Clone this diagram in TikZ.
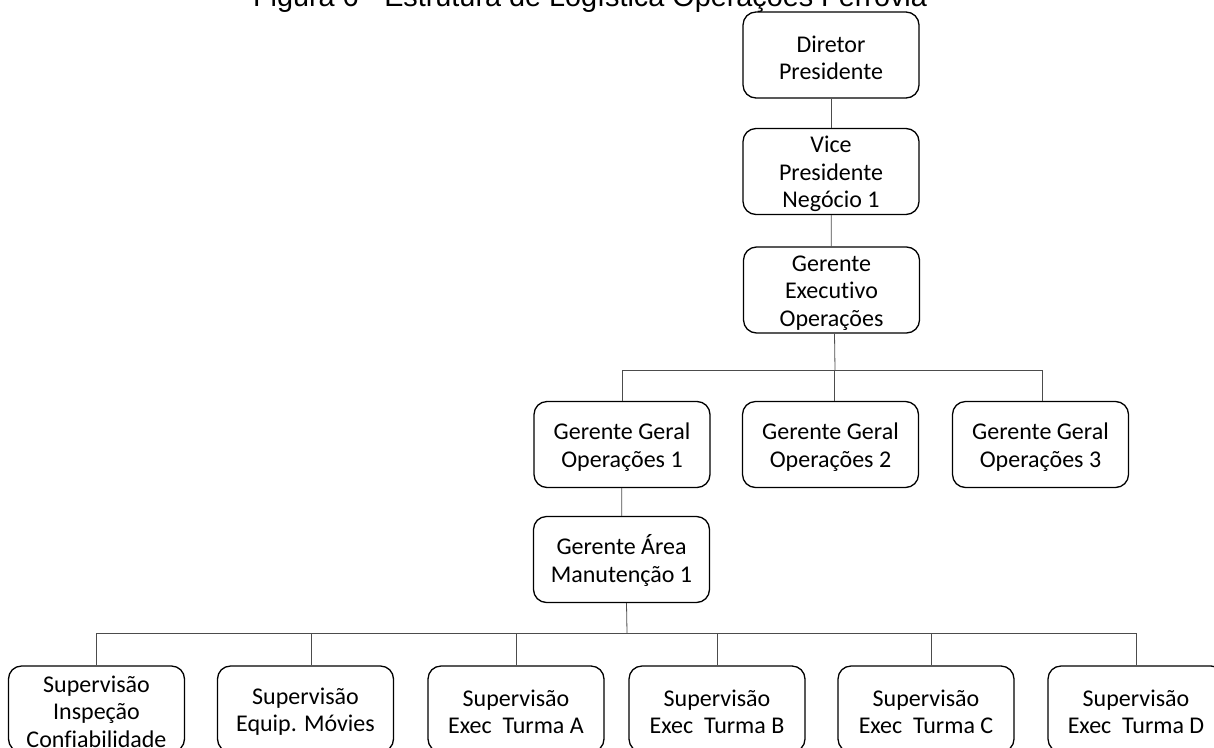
\documentclass[tikz,border=0pt]{standalone}
\usepackage{fontspec}
\setmainfont[Ligatures={NoCommon}]{Carlito}
\newfontfamily\titlefont{Liberation Sans}
% strut that pushes the first text line slightly down inside a box
\newcommand\toppad{\rule{0pt}{22pt}}
\begin{document}
\begin{tikzpicture}[x=1pt,y=-1pt,
  box/.style={draw=black, line width=1.3pt, rounded corners=13pt,
    minimum width=176pt, minimum height=86pt, inner sep=0pt,
    align=center, font=\fontsize{24}{27.5}\selectfont},
  link/.style={draw=black!70, line width=0.8pt}]
\clip (0,0) rectangle (1214,747);
% caption
\node[anchor=base, font=\titlefont\fontsize{28.8}{34}\selectfont] (title) at (590,6)
  {Figura 6 - Estrutura de Logística Operações Ferrovia};
% upper chain
\node[box] (dp) at (831,55) {\toppad Diretor\\Presidente};
\node[box] (vp) at (831,171.5) {\toppad Vice\\Presidente\\Negócio 1};
\node[box] (ge) at (831.5,290) {\toppad Gerente\\Executivo\\Operações};
% general managers
\node[box] (gg1) at (622,444.5) {\toppad Gerente Geral\\Operações 1};
\node[box] (gg2) at (830.5,444.5) {\toppad Gerente Geral\\Operações 2};
\node[box] (gg3) at (1040.5,444.5) {\toppad Gerente Geral\\Operações 3};
% area manager
\node[box] (gam) at (621.5,559.5) {\toppad Gerente Área\\Manutenção 1};
% supervisors
\node[box] (s1) at (96.5,709) {\toppad Supervisão\\Inspeção\\Confiabilidade};
\node[box] (s2) at (305.5,709) {\toppad Supervisão\\Equip. Móvies};
\node[box] (s3) at (516,709) {\toppad Supervisão\\Exec\ \ Turma A};
\node[box] (s4) at (717,709) {\toppad Supervisão\\Exec\ \ Turma B};
\node[box] (s5) at (926,709) {\toppad Supervisão\\Exec\ \ Turma C};
\node[box] (s6) at (1136,709) {\toppad Supervisão\\Exec\ \ Turma D};
% connectors
\draw[link] (dp) -- (vp);
\draw[link] (vp) -- (ge);
\coordinate (busA) at (835,370);
\draw[link] ([xshift=3pt]ge.south) -- (busA);
\draw[link] (gg1.north) |- (busA);
\draw[link] ([xshift=4pt]gg2.north) |- (busA);
\draw[link] ([xshift=1.5pt]gg3.north) |- (busA);
\draw[link] (gg1) -- (gam);
\coordinate (busB) at (627,633);
\draw[link] ([xshift=5pt]gam.south) -- (busB);
\draw[link] (s1.north) |- (busB);
\draw[link] ([xshift=5.5pt]s2.north) |- (busB);
\draw[link] (s3.north) |- (busB);
\draw[link] (s4.north) |- (busB);
\draw[link] ([xshift=5pt]s5.north) |- (busB);
\draw[link] (s6.north) |- (busB);
\end{tikzpicture}
\end{document}
